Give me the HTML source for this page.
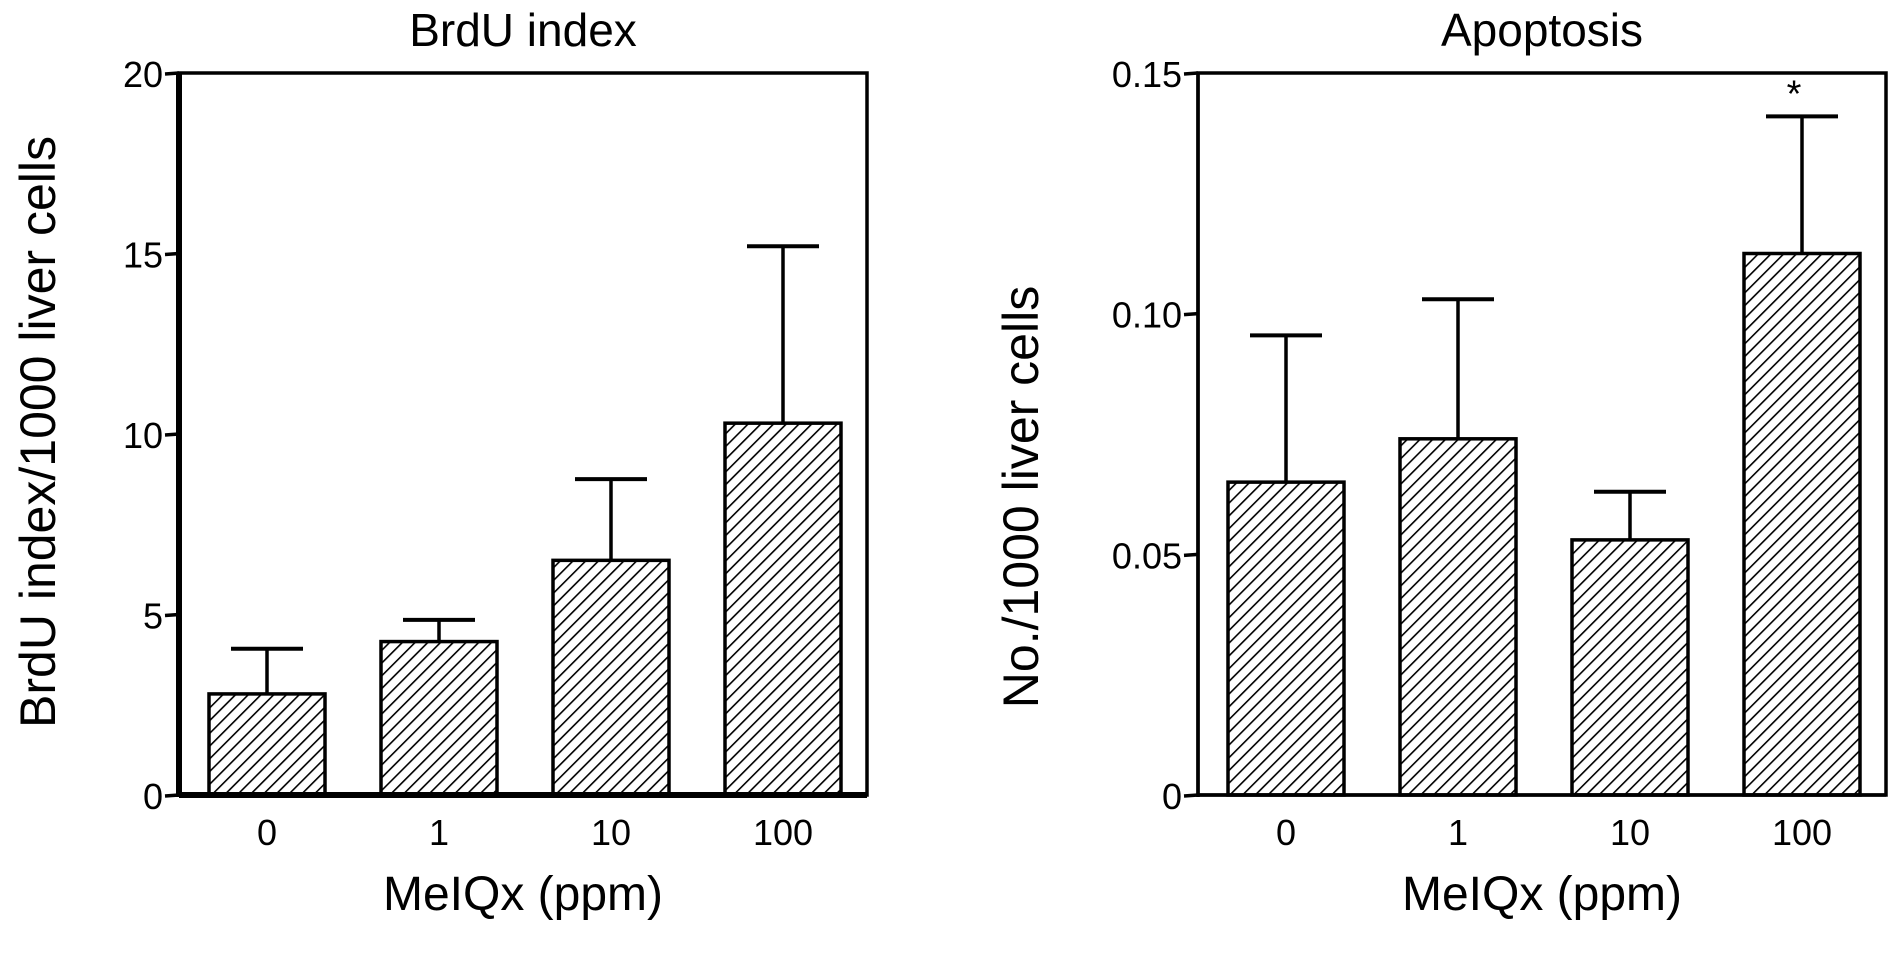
<!DOCTYPE html>
<html><head><meta charset="utf-8"><style>
html,body{margin:0;padding:0;background:#fff}
svg{display:block}
text{font-family:"Liberation Sans",sans-serif;fill:#000}
</style></head><body>
<svg id="fig" width="1890" height="965" viewBox="0 0 1890 965">
<defs>
<pattern id="hatch" patternUnits="userSpaceOnUse" width="9" height="9" patternTransform="rotate(45)">
<rect width="9" height="9" fill="#fff"/>
<line x1="0" y1="0" x2="0" y2="9" stroke="#000" stroke-width="3.2"/>
</pattern>
</defs>
</svg>
<script>
const categories = ["0","1","10","100"];
const brduMeans = [2.8, 4.25, 6.5, 10.3];
const brduErrTop = [4.05, 4.85, 8.75, 15.2];
const brduTicks = [0, 5, 10, 15, 20];
const brduTickLabels = ["0","5","10","15","20"];
const apoMeans = [0.065, 0.074, 0.053, 0.1125];
const apoErrTop = [0.0955, 0.103, 0.063, 0.141];
const apoTicks = [0, 0.05, 0.10, 0.15];
const apoTickLabels = ["0","0.05","0.10","0.15"];
const apoSignificant = [false, false, false, true];

const NS = "http://www.w3.org/2000/svg";
const svg = document.getElementById("fig");
function mk(tag, attrs, parent){
  const e = document.createElementNS(NS, tag);
  for (const k in attrs) e.setAttribute(k, attrs[k]);
  (parent||svg).appendChild(e);
  return e;
}
function panel(cfg){
  const g = mk("g", {});
  
  
  const L = cfg.left, R = cfg.left + 688, T = 73, B = 795;
  const y = v => B - (v - cfg.min) / (cfg.max - cfg.min) * (B - T);
  const xBar = i => L + 30 + i * 172;
  const bw = 116;
  cfg.means.forEach((m, i) => {
    const x = xBar(i), cx = x + bw / 2;
    const el = mk("line", {x1:cx, y1:y(m), x2:cx, y2:y(cfg.err[i]), stroke:"#000","stroke-width":3.5}, g);
    
    
    const cap = mk("line", {x1:cx-36, y1:y(cfg.err[i]), x2:cx+36, y2:y(cfg.err[i]), stroke:"#000","stroke-width":4}, g);
    
    
    const r = mk("rect", {x:x, y:y(m), width:bw, height:B - y(m), fill:"url(#hatch)", stroke:"#000","stroke-width":3.5}, g);
    
    
    const t = mk("text", {x:cx, y:845, "font-size":36, "text-anchor":"middle"}, g);
    t.textContent = categories[i];
    
    
    if (cfg.sig && cfg.sig[i]) {
      const s = mk("text", {x:cx - 8, y:y(cfg.err[i]) - 10, "font-size":38, "text-anchor":"middle"}, g);
      s.textContent = "*";
      
      
    }
  });
  const fr = mk("rect", {x:L, y:T, width:R-L, height:B-T, fill:"none", stroke:"#000","stroke-width":3.5}, g);
  
  
  const ya = mk("line", {x1:L, y1:T, x2:L, y2:B+2, stroke:"#000","stroke-width":cfg.axisW}, g);
  
  
  const xa = mk("line", {x1:L, y1:B, x2:R, y2:B, stroke:"#000","stroke-width":cfg.axisW}, g);
  
  
  cfg.ticks.forEach((v, i) => {
    const tk = mk("line", {x1:L-14, y1:y(v)+1, x2:L, y2:y(v), stroke:"#000","stroke-width":3.5}, g);
    
    
    const tl = mk("text", {x:L-16, y:y(v)+14, "font-size":36, "text-anchor":"end"}, g);
    tl.textContent = cfg.tickLabels[i];
    
    
  });
  const ti = mk("text", {x:(L+R)/2, y:46, "font-size":46, "text-anchor":"middle"}, g);
  ti.textContent = cfg.title;
  
  
  const xt = mk("text", {x:(L+R)/2, y:910, "font-size":48, "text-anchor":"middle"}, g);
  xt.textContent = "MeIQx (ppm)";
  
  
  const yt = mk("text", {x:0, y:0, "font-size":50, "text-anchor":"middle", transform:"translate(" + cfg.ylx + "," + cfg.yly + ") rotate(-90)"}, g);
  yt.textContent = cfg.ylabel;
  
  
}
panel({name:"brdu-chart", left:179, min:0, max:20, means:brduMeans, err:brduErrTop, ticks:brduTicks, tickLabels:brduTickLabels, title:"BrdU index", ylabel:"BrdU index/1000 liver cells", ylx:55, yly:432, axisW:6});
panel({name:"apoptosis-chart", left:1198, min:0, max:0.15, means:apoMeans, err:apoErrTop, ticks:apoTicks, tickLabels:apoTickLabels, title:"Apoptosis", ylabel:"No./1000 liver cells", ylx:1038, yly:497, axisW:3.5, sig:apoSignificant});
</script>
</body></html>
